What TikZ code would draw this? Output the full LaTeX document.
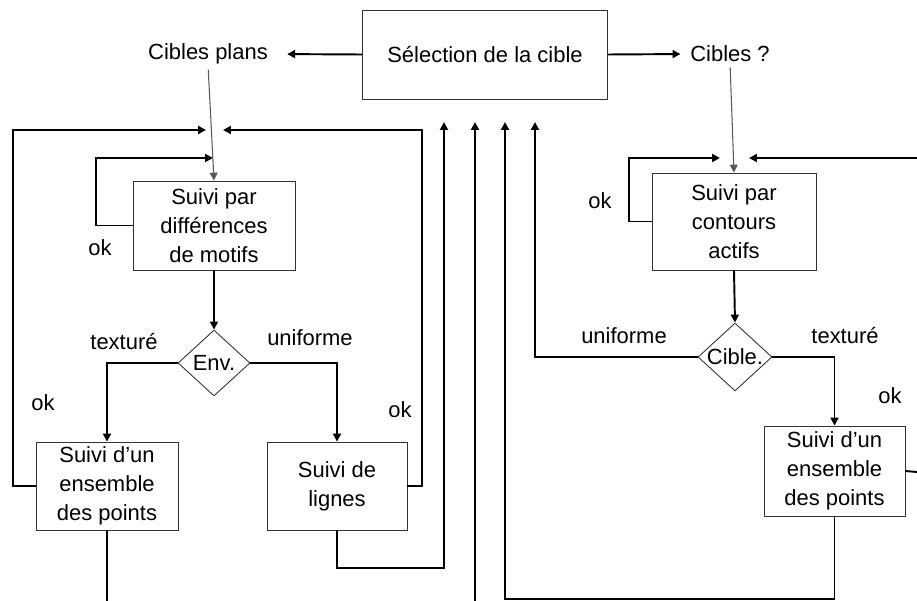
\documentclass[tikz,border=0pt]{standalone}
\usepackage{fontspec}
\setmainfont{Liberation Sans}
\usetikzlibrary{shapes.geometric,arrows.meta}

\begin{document}
\begin{tikzpicture}[x=0.02cm,y=-0.02cm,
    every node/.style={font=\fontsize{12.5}{16.5}\selectfont},
    box/.style={draw=black!80,line width=0.5pt,align=center,inner sep=0pt},
    decision/.style={draw=black!80,line width=0.5pt,shape=diamond,inner sep=0pt},
    flow/.style={line width=1.1pt,-{Triangle[length=4.5pt,width=4.5pt]}},
    link/.style={line width=1.1pt},
    feed/.style={line width=0.6pt,draw=black!65,-{Triangle[length=4.5pt,width=4.5pt]}}]
    \useasboundingbox (0,0) rectangle (917,601);

    \node[box,minimum width=4.9cm,minimum height=1.78cm] (sel) at (485,54.5)
        {S\'election de la cible};
    \node[inner sep=0pt] (plans) at (208,54) {Cibles plans};
    \node[inner sep=0pt] (cibq) at (730,54) {Cibles ?};

    \node[box,minimum width=3.24cm,minimum height=1.78cm] (diff) at (214,225.5)
        {Suivi par\\diff\'erences\\de motifs};
    \node[decision,minimum width=1.44cm,minimum height=1.32cm,
        label=center:Env.] (env) at (214,363) {};
    \node[box,minimum width=2.84cm,minimum height=1.76cm] (ptsL) at (107,486)
        {Suivi d'un\\ensemble\\des points};
    \node[box,minimum width=2.8cm,minimum height=1.76cm] (lignes) at (337,486)
        {Suivi de\\lignes};

    \node[box,minimum width=3.28cm,minimum height=1.94cm] (contours) at (734,221.5)
        {Suivi par\\contours\\actifs};
    \node[decision,minimum width=1.48cm,minimum height=1.36cm,
        label=center:Cible.] (cible) at (735,357) {};
    \node[box,minimum width=2.82cm,minimum height=1.8cm] (ptsR) at (834.5,471)
        {Suivi d'un\\ensemble\\des points};

    \node (okA) at (100,248) {ok};
    \node (okB) at (43,403) {ok};
    \node (okC) at (400,410) {ok};
    \node (okD) at (600,201) {ok};
    \node (okE) at (890,396) {ok};
    \node (texA) at (124,342) {textur\'e};
    \node (uniA) at (310,338) {uniforme};
    \node (uniB) at (624,336) {uniforme};
    \node (texB) at (845,336) {textur\'e};

    \coordinate (inL) at (206,130);
    \coordinate (inR) at (223,130);
    \coordinate (loopL) at (213,158);
    \coordinate (loopR) at (720,158);
    \coordinate (inC) at (749,158);
    \coordinate (edgeC) at (917,158);
    \coordinate (edgeP) at (917,472);
    \coordinate (outL) at (107,601);
    \coordinate (lowB) at (475,601);
    \coordinate (upA) at (444,122);
    \coordinate (upB) at (475,122);
    \coordinate (upC) at (505,122);
    \coordinate (upD) at (535,122);

    \draw[flow,shorten >=0.38cm] (sel.west) -- (plans.east);
    \draw[flow,shorten >=0.19cm] (sel.east) -- (cibq.west);
    \draw[feed,shorten <=0.1cm] (plans.south) -- (diff.north);
    \draw[feed,shorten <=0.1cm] (cibq.south) -- (contours.north);

    \draw[flow] (diff.west) -- ++(-37,0) |- (loopL);
    \draw[flow] (ptsL.west) -- ++(-23,0) |- (inL);
    \draw[flow] (lignes.east) -- ++(15,0) |- (inR);
    \draw[flow] (diff.south) -- (env.north);
    \draw[flow] (env.west) -| (ptsL.north);
    \draw[flow] (env.east) -| (lignes.north);
    \draw[link] (ptsL.south) -- (outL);
    \draw[flow] (lignes.south) -- ++(0,38) -| (upA);
    \draw[flow] (lowB) -- (upB);
    \draw[flow] (ptsR.south) -- ++(0,83) -| (upC);
    \draw[flow] (cible.west) -| (upD);
    \draw[flow] (cible.east) -| (ptsR.north);
    \draw[flow] (contours.south) -- (cible.north);
    \draw[flow] (contours.west) -- ++(-23,0) |- (loopR);
    \draw[flow] (edgeC) -- (inC);
    \draw[link] (ptsR.east) -- (edgeP);
\end{tikzpicture}
\end{document}
